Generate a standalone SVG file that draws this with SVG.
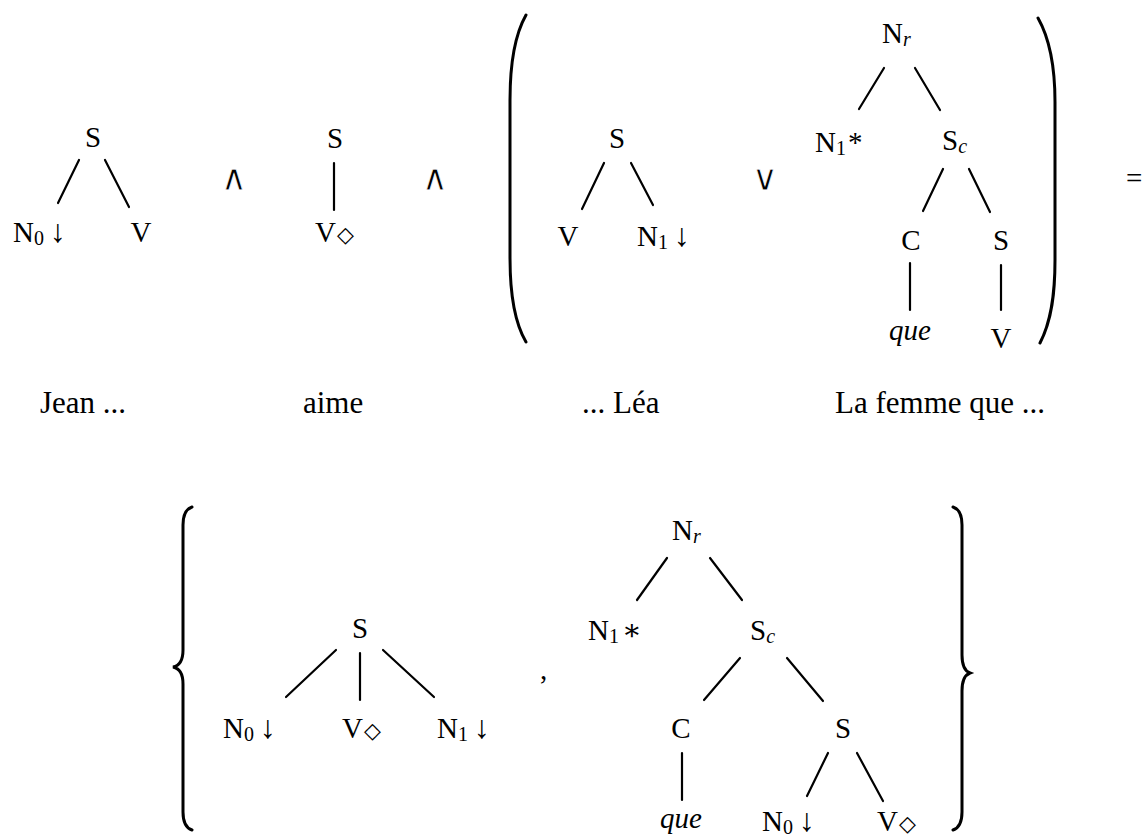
<svg xmlns="http://www.w3.org/2000/svg" width="1144" height="838" viewBox="0 0 1144 838">
<style>
text{font-family:"Liberation Serif","DejaVu Serif",serif;font-size:29px;fill:#000}
.lab{font-size:31px}
.sub{font-size:20px}
.it{font-style:italic}
.op{font-family:"DejaVu Sans",sans-serif;font-size:36px;stroke:#fff;stroke-width:0.8}
.dia{font-family:"DejaVu Sans",sans-serif;font-size:22px}
.arr{font-size:32px}
.c line{stroke:#000;stroke-width:2.2;stroke-linecap:round}
.br{fill:none;stroke:#000;stroke-width:3;stroke-linecap:round}
</style>
<rect width="1144" height="838" fill="#fff"/>
<g id="connectors" class="c">
<line x1="79" y1="160" x2="58" y2="203"/>
<line x1="105" y1="160" x2="129" y2="207"/>
<line x1="334" y1="163" x2="334" y2="210"/>
<line x1="604" y1="163" x2="582" y2="209"/>
<line x1="631" y1="163" x2="653" y2="205"/>
<line x1="884" y1="68" x2="859" y2="109"/>
<line x1="915" y1="68" x2="940" y2="110"/>
<line x1="943" y1="169" x2="923" y2="211"/>
<line x1="969" y1="169" x2="990" y2="212"/>
<line x1="910" y1="263" x2="910" y2="310"/>
<line x1="1001" y1="265" x2="1001" y2="310"/>
<line x1="336" y1="650" x2="286" y2="697"/>
<line x1="360" y1="653" x2="360" y2="700"/>
<line x1="383" y1="650" x2="434" y2="697"/>
<line x1="667" y1="558" x2="637" y2="600"/>
<line x1="710" y1="558" x2="742" y2="600"/>
<line x1="740" y1="658" x2="704" y2="700"/>
<line x1="787" y1="658" x2="823" y2="701"/>
<line x1="682" y1="753" x2="682" y2="800"/>
<line x1="828" y1="753" x2="807" y2="796"/>
<line x1="857" y1="753" x2="883" y2="801"/>
</g>
<g id="delimiters">
<path class="br" d="M526,15 C513,38 510,70 510,100 L510,258 C510,290 513,320 526,342"/>
<path class="br" d="M1038,18 C1051,41 1055,72 1055,102 L1055,260 C1055,292 1052,320 1040,343"/>
<path class="br" d="M192,507 Q183,510 183,525 L183,650 Q183,665 173,667 Q183,669 183,684 L183,812 Q183,827 192,830"/>
<path class="br" d="M953,507 Q962,510 962,525 L962,655 Q962,670 970,673 Q962,676 962,691 L962,812 Q962,827 953,830"/>
</g>
<g id="operators">
<text class="op" x="234" y="190" text-anchor="middle">∧</text>
<text class="op" x="435" y="190" text-anchor="middle">∧</text>
<text class="op" x="765" y="190" text-anchor="middle">∨</text>
<text x="1126" y="188">=</text>
<text x="540" y="679">,</text>
</g>
<g id="t1-S"><text x="93" y="147" text-anchor="middle">S</text></g>
<g id="t1-N0"><text x="13" y="242">N<tspan class="sub" dy="3">0</tspan><tspan class="arr" dy="-3" dx="6">↓</tspan></text></g>
<g id="t1-V"><text x="141" y="242" text-anchor="middle">V</text></g>
<g id="t2-S"><text x="335" y="148" text-anchor="middle">S</text></g>
<g id="t2-V"><text x="315" y="242">V<tspan class="dia" dx="1">◇</tspan></text></g>
<g id="t3-S"><text x="617" y="148" text-anchor="middle">S</text></g>
<g id="t3-V"><text x="568" y="246" text-anchor="middle">V</text></g>
<g id="t3-N1"><text x="637" y="246">N<tspan class="sub" dy="3">1</tspan><tspan class="arr" dy="-3" dx="6">↓</tspan></text></g>
<g id="t4-Nr"><text x="882" y="43">N<tspan class="sub it" dy="3">r</tspan></text></g>
<g id="t4-N1"><text x="815" y="152">N<tspan class="sub" dy="3">1</tspan><tspan dy="-3" dx="2">*</tspan></text></g>
<g id="t4-Sc"><text x="942" y="150">S<tspan class="sub it" dy="3">c</tspan></text></g>
<g id="t4-C"><text x="911" y="250" text-anchor="middle">C</text></g>
<g id="t4-S"><text x="1001" y="250" text-anchor="middle">S</text></g>
<g id="t4-que"><text class="it" x="910" y="340" text-anchor="middle">que</text></g>
<g id="t4-V"><text x="1001" y="348" text-anchor="middle">V</text></g>
<g id="labels">
<text class="lab" x="40" y="413">Jean ...</text>
<text class="lab" x="303" y="413">aime</text>
<text class="lab" x="582" y="413">... Léa</text>
<text class="lab" x="835" y="413">La femme que ...</text>
</g>
<g id="b1-S"><text x="360" y="638" text-anchor="middle">S</text></g>
<g id="b1-N0"><text x="223" y="738">N<tspan class="sub" dy="3">0</tspan><tspan class="arr" dy="-3" dx="6">↓</tspan></text></g>
<g id="b1-V"><text x="342" y="738">V<tspan class="dia" dx="1">◇</tspan></text></g>
<g id="b1-N1"><text x="437" y="738">N<tspan class="sub" dy="3">1</tspan><tspan class="arr" dy="-3" dx="6">↓</tspan></text></g>
<g id="b2-Nr"><text x="672" y="540">N<tspan class="sub it" dy="3">r</tspan></text></g>
<g id="b2-N1"><text x="588" y="640">N<tspan class="sub" dy="3">1</tspan><tspan dy="-3" dx="3">∗</tspan></text></g>
<g id="b2-Sc"><text x="750" y="640">S<tspan class="sub it" dy="3">c</tspan></text></g>
<g id="b2-C"><text x="681" y="738" text-anchor="middle">C</text></g>
<g id="b2-S"><text x="843" y="738" text-anchor="middle">S</text></g>
<g id="b2-que"><text class="it" x="681" y="828" text-anchor="middle">que</text></g>
<g id="b2-N0"><text x="762" y="831">N<tspan class="sub" dy="3">0</tspan><tspan class="arr" dy="-3" dx="6">↓</tspan></text></g>
<g id="b2-V"><text x="877" y="831">V<tspan class="dia" dx="1">◇</tspan></text></g>
</svg>
